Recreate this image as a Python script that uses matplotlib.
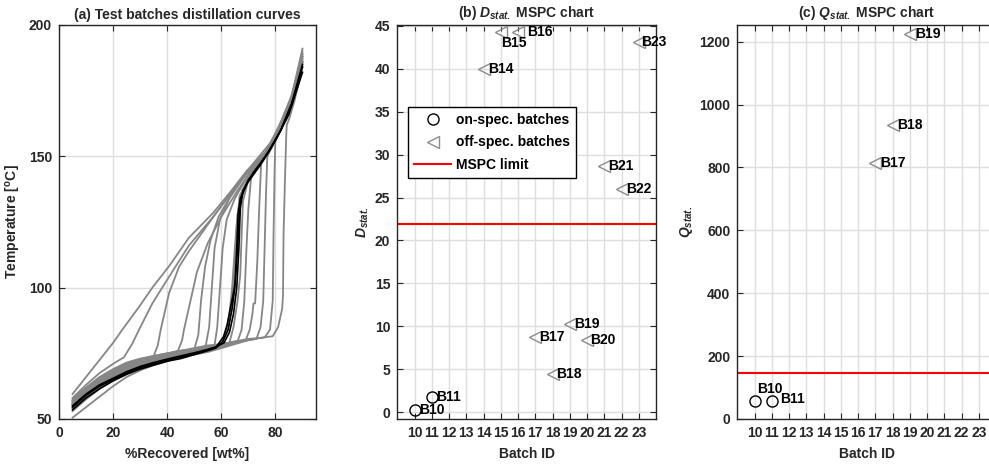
import matplotlib
matplotlib.use("Agg")
import matplotlib.pyplot as plt
from matplotlib.lines import Line2D

plt.rcParams["font.family"] = ["Liberation Sans", "DejaVu Sans"]
plt.rcParams["font.weight"] = "bold"
plt.rcParams["mathtext.fontset"] = "custom"
plt.rcParams["mathtext.rm"] = "Liberation Sans:bold"
plt.rcParams["mathtext.it"] = "Liberation Sans:italic:bold"
plt.rcParams["mathtext.bf"] = "Liberation Sans:bold"

TXT = "#262626"
GRID = "#dedede"
GREY_LINE = "#868686"
GREY_MARK = "#8c8c8c"
FS = 10

# ---------------------------------------------------------------------------
# (a) distillation curves: %recovered vs temperature
# ---------------------------------------------------------------------------
grey_curves = [
    ([5, 10, 15, 20, 23.4, 29.6, 34.5, 40.7, 48, 57, 63, 69.4, 76.8, 82, 86, 90],
     [59.5, 66, 72.5, 79, 84, 92.7, 100, 108.2, 119, 128.5, 136, 144.5, 152, 163, 173, 191]),
    ([5, 10, 15, 20, 24, 27, 29.6, 34.5, 40.7, 48, 57, 63, 69.4, 76.8, 82, 86, 90],
     [58, 63, 67.5, 71, 73.5, 78.5, 84, 94, 104.2, 116, 127, 135, 143.5, 151.5, 162, 172, 189]),
    ([5, 10, 15, 20, 25, 30, 35, 36.5, 37.6, 40.7, 44.4, 48.1, 55, 62, 69, 77, 82, 86, 90],
     [56.5, 61, 65, 68, 70.5, 72.5, 74, 78, 84, 98, 108, 114, 124, 134, 143, 152, 163, 173, 188]),
    ([5, 10, 15, 20, 25, 30, 35, 40, 44, 45.5, 46.2, 48.1, 51, 55, 60, 66, 72, 78, 83, 87, 90],
     [55.5, 60, 64, 67, 69.5, 71.5, 73, 74.5, 76, 80, 84, 92.7, 106, 117, 127, 137, 146, 154, 164, 174, 186]),
    ([5, 10, 15, 20, 25, 30, 35, 40, 45, 50, 51.5, 52.5, 54, 56, 59, 64, 70, 78, 84, 90],
     [57, 61.5, 65.5, 68.5, 71, 72.5, 73.5, 74.5, 75.5, 76.5, 82, 95, 108, 118, 127, 136, 145, 155, 166, 188]),
    ([5, 10, 15, 20, 25, 30, 35, 40, 45, 50, 54, 55.5, 56.5, 57.5, 59.5, 63, 69, 76, 82, 86, 90],
     [54, 58.5, 62, 65.5, 68, 70, 71.5, 73, 74.5, 75.5, 76.5, 85, 100, 115, 126, 134, 143, 151, 161, 171, 187]),
    ([5, 10, 15, 20, 25, 30, 35, 40, 45, 50, 55, 57.5, 58.5, 59.5, 60.5, 62, 65, 70, 77, 83, 87, 90],
     [56, 60, 64, 67, 69.5, 71.5, 73, 74, 75, 76, 77, 78, 85, 100, 115, 126, 134, 143, 152, 163, 174, 186]),
    ([5, 10, 15, 20, 25, 30, 35, 40, 45, 50, 55, 60, 61.5, 63, 64, 65, 66, 67.5, 71, 77, 82, 86, 90],
     [50.5, 54.5, 58.5, 62.5, 66, 68.5, 70.5, 72, 73.5, 75, 76.5, 78, 82, 90, 100, 115, 128, 136, 143, 152, 161, 171, 185]),
    ([5, 10, 15, 20, 25, 30, 35, 40, 45, 50, 55, 60, 62.5, 64, 65, 65.8, 66.8, 70, 76, 82, 86, 90],
     [55, 59.5, 63.5, 66.5, 69, 71, 72.5, 73.5, 74.5, 75.5, 76.5, 78, 84, 95, 110, 125, 135, 142, 150, 161, 171, 186]),
    ([5, 10, 15, 20, 25, 30, 35, 40, 45, 50, 55, 60, 63, 64.5, 66, 67, 67.5, 68, 70, 75, 81, 86, 90],
     [57.5, 62, 66, 69, 71.5, 73, 74, 75, 76, 76.5, 77.5, 78.5, 79, 85, 95, 105, 120, 133, 141, 149, 159, 171, 189]),
    ([5, 10, 15, 20, 25, 30, 35, 40, 45, 50, 55, 60, 66, 67.5, 68.5, 69.3, 70, 71, 75, 81, 86, 90],
     [55.5, 60, 63.5, 66.5, 69, 71, 72.5, 73.5, 74.5, 75.5, 76.5, 78, 79.5, 84, 95, 115, 130, 142, 149, 159, 170, 187]),
    ([5, 10, 15, 20, 25, 30, 35, 40, 45, 50, 55, 60, 65, 69, 70.5, 71.5, 71.9, 72.5, 72.6, 73.3, 74, 74.7, 78, 82, 86, 90],
     [56, 60.5, 64.5, 67.5, 70, 72, 73.5, 74.5, 75.5, 76.5, 77.5, 78.5, 79.5, 80, 84, 90, 94, 94, 96, 110, 130, 147, 153, 161, 171, 188]),
    ([5, 10, 15, 20, 25, 30, 35, 40, 45, 50, 55, 60, 65, 70, 73, 74.5, 75.5, 76, 76.5, 77, 80, 84, 87, 90],
     [54.5, 59, 63, 66, 68.5, 70.5, 72, 73.5, 74.5, 75.5, 76.5, 77.5, 79, 80, 80.5, 85, 95, 115, 135, 150, 156, 164, 173, 186]),
    ([5, 10, 15, 20, 25, 30, 35, 40, 45, 50, 55, 60, 65, 70, 76, 78, 79, 79.3, 79.7, 80, 83, 87, 90],
     [57, 61.5, 65.5, 68.5, 71, 72.5, 74, 75, 76, 77, 78, 78.5, 79.5, 80.5, 81, 84, 95, 120, 145, 157, 163, 175, 190]),
    ([5, 10, 15, 20, 25, 30, 35, 40, 45, 50, 55, 60, 65, 70, 75, 79, 81, 82.5, 82.8, 83, 83.5, 84, 84.2, 85, 87, 90],
     [53, 57.5, 61.5, 65, 67.5, 69.5, 71, 72.5, 73.5, 74.5, 75.5, 77, 78.5, 80, 81, 81.5, 85, 92, 97, 120, 140, 158, 162, 164, 171, 184]),
]

black_curves = [
    ([5, 10, 15, 20, 25, 30, 35, 40, 45, 50, 55, 58, 60.8, 62.2, 63.2, 64.3, 65.1, 65.7, 66.3, 66.9, 68, 69.4, 74.3, 78, 82, 86, 90],
     [54.5, 59, 62.5, 65, 67.5, 69.5, 71, 72.3, 73.5, 74.8, 76.3, 77.3, 81.3, 86, 91.5, 97, 101.7, 110, 120.7, 132, 136, 139.5, 146.5, 152.4, 160, 170, 184]),
    ([5, 10, 15, 20, 25, 30, 35, 40, 45, 50, 55, 58, 60.5, 62.5, 64, 65, 65.7, 66.2, 67, 70, 75, 80, 85, 90],
     [53.5, 58, 61.5, 64.5, 67, 69, 70.5, 72, 73, 74.5, 76, 77, 79.5, 84, 92, 100, 115, 128, 134, 141, 148, 156, 166, 182]),
    ([5, 10, 15, 20, 25, 30, 35, 40, 45, 50, 55, 58, 61, 63, 64.5, 65.7, 66.5, 67, 68, 72, 77, 82, 86, 90],
     [55, 59.5, 63, 65.5, 68, 70, 71.5, 72.8, 74, 75.2, 76.5, 77.5, 79, 83, 90, 100, 115, 130, 137, 144, 151, 160, 170, 185]),
]

# ---------------------------------------------------------------------------
# (b) D-statistic and (c) Q-statistic per batch
# ---------------------------------------------------------------------------
on_spec_ids = [10, 11]
off_spec_ids = [14, 15, 16, 17, 18, 19, 20, 21, 22, 23]

d_on = [0.23, 1.75]
d_off = [40.0, 44.3, 44.3, 8.75, 4.5, 10.25, 8.4, 28.65, 25.95, 43.1]
d_limit = 21.9

q_on_ids = [10, 11]
q_on = [56, 56]
q_off_ids = [17, 18, 19]
q_off = [814, 936, 1223]
q_limit = 146

# label placement relative to each marker (x offset, y offset)
d_label_off = {10: (0.25, 0), 11: (0.27, 0), 14: (0.27, 0), 15: (0.0, -1.3),
               16: (0.53, 0), 17: (0.22, 0), 18: (0.23, 0), 19: (0.25, 0),
               20: (0.2, 0), 21: (0.22, 0), 22: (0.25, 0), 23: (0.16, 0)}
q_label_off = {10: (0.14, 39), 11: (0.5, 7), 17: (0.28, 0), 18: (0.29, 0),
               19: (0.3, 0)}


def style_axes(ax):
    ax.tick_params(direction="in", top=True, right=True, length=4, width=0.8,
                   labelsize=FS, colors=TXT, pad=5)
    for lab in ax.get_xticklabels() + ax.get_yticklabels():
        lab.set_fontweight("bold")
    for s in ax.spines.values():
        s.set_color(TXT)
        s.set_linewidth(1.0)
    ax.grid(True, color=GRID, linewidth=1.0)
    ax.set_axisbelow(True)


W, H = 989, 468
fig = plt.figure(figsize=(W / 100, H / 100), dpi=100)
ax_a = fig.add_axes([59 / W, 1 - 419 / H, 257 / W, 394 / H])
ax_b = fig.add_axes([397.3 / W, 1 - 419 / H, 258.7 / W, 394 / H])
ax_c = fig.add_axes([737.3 / W, 1 - 419 / H, 258.7 / W, 394 / H])

lab_kw = dict(fontsize=FS, fontweight="bold", color=TXT)

# ---- (a)
for xs, ts in grey_curves:
    ax_a.plot(xs, ts, color=GREY_LINE, lw=1.3)
for xs, ts in black_curves:
    ax_a.plot(xs, ts, color="black", lw=1.2)
ax_a.set_xlim(0, 95)
ax_a.set_ylim(50, 200)
ax_a.set_xticks([0, 20, 40, 60, 80])
ax_a.set_yticks([50, 100, 150, 200])
style_axes(ax_a)
ax_a.set_title("(a) Test batches distillation curves", pad=2, va="bottom", **lab_kw)
ax_a.set_xlabel("%Recovered [wt%]", labelpad=5, **lab_kw)
ax_a.set_ylabel(r"Temperature [$^\mathrm{o}$C]", **lab_kw)
ax_a.yaxis.set_label_coords(-0.139, 0.5)

# ---- (b)
ax_b.axhline(d_limit, color="red", lw=1.5, zorder=2)
ax_b.plot(on_spec_ids, d_on, "o", ms=8, mfc="none", mec="black", mew=1.0, zorder=3)
ax_b.plot(off_spec_ids, d_off, "<", ms=8, mfc="none", mec=GREY_MARK, mew=1.0, zorder=3)
for bid, val in zip(on_spec_ids + off_spec_ids, d_on + d_off):
    dx, dy = d_label_off[bid]
    ax_b.text(bid + dx, val + dy, f"B{bid}", fontsize=FS, fontweight="bold",
              color="black", ha="left", va="center", clip_on=False)
ax_b.set_xlim(9, 24)
ax_b.set_ylim(-0.8, 45.1)
ax_b.set_xticks(range(10, 24))
ax_b.set_yticks(range(0, 46, 5))
style_axes(ax_b)
ax_b.set_title(r"(b) $D_{stat.}$ MSPC chart", pad=2, va="bottom", **lab_kw)
ax_b.set_xlabel("Batch ID", labelpad=5, **lab_kw)
ax_b.set_ylabel(r"$D_{stat.}$", **lab_kw)
ax_b.yaxis.set_label_coords(-0.10, 0.5)

handles = [
    Line2D([], [], ls="none", marker="o", ms=8, mfc="none", mec="black", mew=1.0),
    Line2D([], [], ls="none", marker="<", ms=8, mfc="none", mec=GREY_MARK, mew=1.0),
    Line2D([], [], color="red", lw=1.5),
]
leg = ax_b.legend(handles, ["on-spec. batches", "off-spec. batches", "MSPC limit"],
                  loc="upper left", bbox_to_anchor=(0.04, 0.793),
                  prop=dict(size=FS, weight="bold"),
                  frameon=True, fancybox=False, framealpha=1, edgecolor="black",
                  borderpad=0.45, labelspacing=0.62, handlelength=2.7,
                  handletextpad=0.3, borderaxespad=0)
leg.get_frame().set_linewidth(1.0)

# ---- (c)
ax_c.axhline(q_limit, color="red", lw=1.5, zorder=2)
ax_c.plot(q_on_ids, q_on, "o", ms=8, mfc="none", mec="black", mew=1.0, zorder=3)
ax_c.plot(q_off_ids, q_off, "<", ms=8, mfc="none", mec=GREY_MARK, mew=1.0, zorder=3)
for bid, val in zip(q_on_ids + q_off_ids, q_on + q_off):
    dx, dy = q_label_off[bid]
    ax_c.text(bid + dx, val + dy, f"B{bid}", fontsize=FS, fontweight="bold",
              color="black", ha="left", va="center")
ax_c.set_xlim(9, 24)
ax_c.set_ylim(0, 1253)
ax_c.set_xticks(range(10, 24))
ax_c.set_yticks(range(0, 1201, 200))
style_axes(ax_c)
ax_c.set_title(r"(c) $Q_{stat.}$ MSPC chart", pad=2, va="bottom", **lab_kw)
ax_c.set_xlabel("Batch ID", labelpad=5, **lab_kw)
ax_c.set_ylabel(r"$Q_{stat.}$", **lab_kw)
ax_c.yaxis.set_label_coords(-0.163, 0.5)

fig.savefig("out.png", dpi=100)
